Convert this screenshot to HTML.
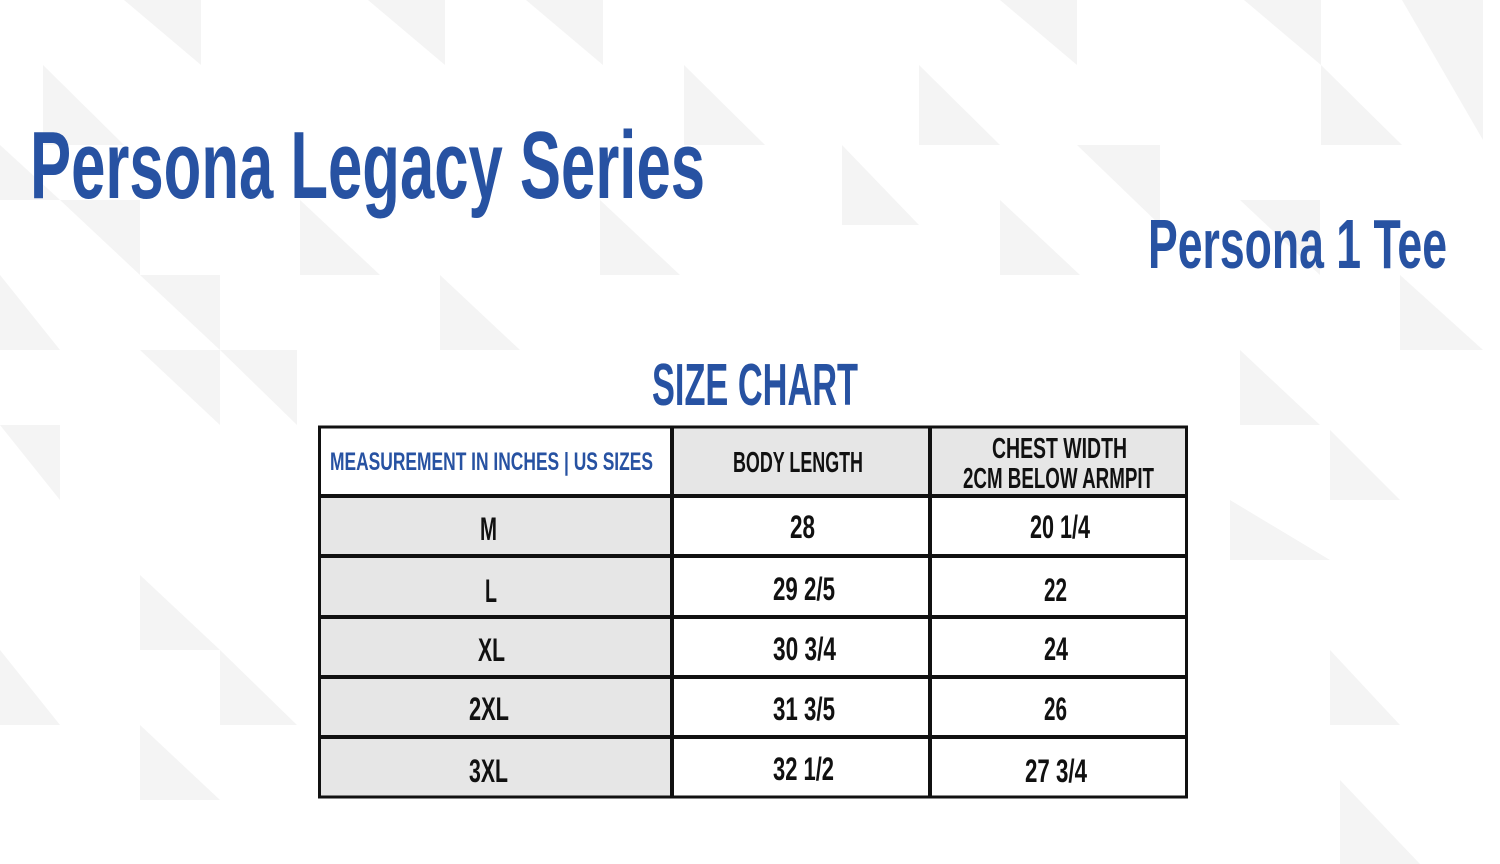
<!DOCTYPE html>
<html><head><meta charset="utf-8"><style>
html,body{margin:0;padding:0;background:#fff;}
svg{display:block;}
text{font-family:"Liberation Sans",sans-serif;font-weight:bold;}
</style></head><body>
<svg width="1500" height="864" viewBox="0 0 1500 864" xmlns="http://www.w3.org/2000/svg">
<rect width="1500" height="864" fill="#ffffff"/>
<g fill="#f4f4f4">
<polygon points="124,0 201,0 201,65"/>
<polygon points="368,0 445,0 445,65"/>
<polygon points="526,0 603,0 603,65"/>
<polygon points="1000,0 1077,0 1077,65"/>
<polygon points="1244,0 1321,0 1321,65"/>
<polygon points="1402,0 1483,0 1483,140"/>
<polygon points="43,65 124,145 43,145"/>
<polygon points="684,65 765,145 684,145"/>
<polygon points="919,65 1000,145 919,145"/>
<polygon points="1321,65 1402,145 1321,145"/>
<polygon points="1077,145 1160,225 1160,145"/>
<polygon points="0,145 60,200 0,200"/>
<polygon points="842,145 919,225 842,225"/>
<polygon points="60,200 140,275 140,200"/>
<polygon points="300,200 380,275 300,275"/>
<polygon points="600,200 680,275 600,275"/>
<polygon points="1000,200 1080,275 1000,275"/>
<polygon points="1240,200 1320,275 1320,200"/>
<polygon points="0,275 60,350 0,350"/>
<polygon points="140,275 220,350 220,275"/>
<polygon points="440,275 520,350 440,350"/>
<polygon points="1400,275 1483,350 1400,350"/>
<polygon points="140,350 220,425 220,350"/>
<polygon points="220,350 297,425 297,350"/>
<polygon points="0,425 60,500 60,425"/>
<polygon points="1240,350 1320,425 1240,425"/>
<polygon points="1330,430 1400,500 1330,500"/>
<polygon points="140,575 220,650 140,650"/>
<polygon points="220,650 297,725 220,725"/>
<polygon points="0,650 60,725 0,725"/>
<polygon points="140,725 220,800 140,800"/>
<polygon points="1330,650 1400,725 1330,725"/>
<polygon points="1230,500 1330,560 1230,560"/>
<polygon points="1340,780 1420,864 1340,864"/>
</g>

<text x="30" y="198" font-size="96" fill="#2752a2" textLength="675" lengthAdjust="spacingAndGlyphs">Persona Legacy Series</text>
<text x="1148" y="268" font-size="70" fill="#2752a2" textLength="299" lengthAdjust="spacingAndGlyphs">Persona 1 Tee</text>
<text x="652" y="405" font-size="59" fill="#2752a2" textLength="206" lengthAdjust="spacingAndGlyphs">SIZE CHART</text>

<!-- cells -->
<rect x="319" y="427" width="353" height="69" fill="#ffffff"/>
<rect x="672" y="427" width="258" height="69" fill="#e6e6e6"/>
<rect x="930" y="427" width="256" height="69" fill="#e6e6e6"/>
<rect x="319" y="496" width="353" height="301" fill="#e6e6e6"/>
<rect x="672" y="496" width="514" height="301" fill="#ffffff"/>

<!-- grid lines -->
<g stroke="#111" fill="none">
<rect x="319.5" y="427" width="867" height="370" stroke-width="3"/>
<line x1="319" y1="496" x2="1187" y2="496" stroke-width="4"/>
<line x1="319" y1="556" x2="1187" y2="556" stroke-width="4"/>
<line x1="319" y1="617" x2="1187" y2="617" stroke-width="4"/>
<line x1="319" y1="677" x2="1187" y2="677" stroke-width="4"/>
<line x1="319" y1="737" x2="1187" y2="737" stroke-width="4"/>
<line x1="672" y1="426" x2="672" y2="798" stroke-width="4"/>
<line x1="930" y1="426" x2="930" y2="798" stroke-width="4"/>
</g>

<!-- header text -->
<text x="330" y="470" font-size="25" fill="#2752a2" textLength="323" lengthAdjust="spacingAndGlyphs">MEASUREMENT IN INCHES | US SIZES</text>
<text x="733" y="472" font-size="29" fill="#111" textLength="130" lengthAdjust="spacingAndGlyphs">BODY LENGTH</text>
<text x="992" y="458" font-size="29" fill="#111" textLength="135" lengthAdjust="spacingAndGlyphs">CHEST WIDTH</text>
<text x="963" y="488" font-size="29" fill="#111" textLength="191" lengthAdjust="spacingAndGlyphs">2CM BELOW ARMPIT</text>

<!-- data -->
<g font-size="32" fill="#111">
<text x="480" y="540" textLength="17" lengthAdjust="spacingAndGlyphs">M</text>
<text x="485" y="602" textLength="12" lengthAdjust="spacingAndGlyphs">L</text>
<text x="478" y="661" textLength="27" lengthAdjust="spacingAndGlyphs">XL</text>
<text x="469" y="720" textLength="40" lengthAdjust="spacingAndGlyphs">2XL</text>
<text x="469" y="782" textLength="39" lengthAdjust="spacingAndGlyphs">3XL</text>

<text x="790" y="538" textLength="25" lengthAdjust="spacingAndGlyphs">28</text>
<text x="773" y="600" textLength="62" lengthAdjust="spacingAndGlyphs">29 2/5</text>
<text x="773" y="660" textLength="63" lengthAdjust="spacingAndGlyphs">30 3/4</text>
<text x="773" y="720" textLength="62" lengthAdjust="spacingAndGlyphs">31 3/5</text>
<text x="773" y="780" textLength="61" lengthAdjust="spacingAndGlyphs">32 1/2</text>

<text x="1030" y="538" textLength="60" lengthAdjust="spacingAndGlyphs">20 1/4</text>
<text x="1044" y="601" textLength="23" lengthAdjust="spacingAndGlyphs">22</text>
<text x="1044" y="660" textLength="24" lengthAdjust="spacingAndGlyphs">24</text>
<text x="1044" y="720" textLength="23" lengthAdjust="spacingAndGlyphs">26</text>
<text x="1025" y="782" textLength="62" lengthAdjust="spacingAndGlyphs">27 3/4</text>
</g>
</svg>
</body></html>
